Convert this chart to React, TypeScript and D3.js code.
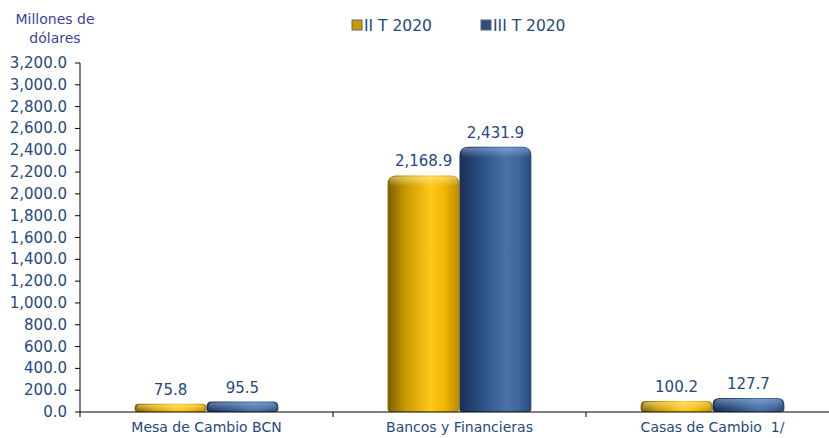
import React from "react";
import * as d3 from "d3";

const categories = ["Mesa de Cambio BCN", "Bancos y Financieras", "Casas de Cambio  1/"];
const seriesNames = ["II T 2020", "III T 2020"];
const serieQ2 = [75.8, 2168.9, 100.2];
const serieQ3 = [95.5, 2431.9, 127.7];
const yTicks = d3.range(0, 3201, 200);

const W = 829, H = 438;
const M = { left: 80, right: 839, top: 63, bottom: 412 };
const FONT = "Verdana, 'DejaVu Sans', sans-serif";
const TXT = "#1F497D";

function barPath(x: number, y: number, w: number, h: number) {
  const r = Math.min(9, h / 2, w / 2);
  const rb = Math.min(3, h / 2);
  return `M${x},${y + h - rb} L${x},${y + r} Q${x},${y} ${x + r},${y} L${x + w - r},${y} Q${x + w},${y} ${x + w},${y + r} L${x + w},${y + h - rb} Q${x + w},${y + h} ${x + w - rb},${y + h} L${x + rb},${y + h} Q${x},${y + h} ${x},${y + h - rb} Z`;
}

export default function App() {
  const x0 = d3.scaleBand().domain(categories).range([M.left, M.right]).paddingInner(0).paddingOuter(0);
  const x1 = d3.scaleBand().domain(seriesNames).range([0, x0.bandwidth()]).paddingInner(0).paddingOuter(0.76);
  const y = d3.scaleLinear().domain([0, 3200]).range([M.bottom, M.top]);
  const series = [serieQ2, serieQ3];
  const fills = ["url(#gY)", "url(#gB)"];
  const hi = ["url(#hY)", "url(#hB)"];

  return (
    <div style={{ position: "absolute", left: 0, top: 0 }}>
      <svg width={W} height={H} style={{ display: "block", fontFamily: FONT }}>
        <defs>
          <linearGradient id="gY" x1="0" x2="1" y1="0" y2="0">
            <stop offset="0" stopColor="#7d5e00" />
            <stop offset="0.25" stopColor="#c99a00" />
            <stop offset="0.6" stopColor="#ffc81a" />
            <stop offset="0.8" stopColor="#f2b400" />
            <stop offset="1" stopColor="#b98a00" />
          </linearGradient>
          <linearGradient id="gB" x1="0" x2="1" y1="0" y2="0">
            <stop offset="0" stopColor="#1a2f55" />
            <stop offset="0.3" stopColor="#2c4f82" />
            <stop offset="0.65" stopColor="#4872a8" />
            <stop offset="0.85" stopColor="#3c6498" />
            <stop offset="1" stopColor="#2a4a78" />
          </linearGradient>
          <linearGradient id="hY" x1="0" x2="0" y1="0" y2="1">
            <stop offset="0" stopColor="#fff3b0" stopOpacity="0.55" />
            <stop offset="1" stopColor="#fff3b0" stopOpacity="0" />
          </linearGradient>
          <linearGradient id="hB" x1="0" x2="0" y1="0" y2="1">
            <stop offset="0" stopColor="#a8c4ea" stopOpacity="0.5" />
            <stop offset="1" stopColor="#a8c4ea" stopOpacity="0" />
          </linearGradient>
        </defs>

        <text x={55} y={24} textAnchor="middle" fontSize={14} fill="#3F3F9F">Millones de</text>
        <text x={55} y={43} textAnchor="middle" fontSize={14} fill="#3F3F9F">dólares</text>

        {seriesNames.map((s, i) => {
          const lx = [352, 481][i];
          return (
            <g key={s}>
              <rect x={lx} y={20} width={10} height={10} fill={i === 0 ? "#c99a00" : "#2c4f82"} stroke="#666" strokeWidth={1} />
              <text x={lx + 12} y={31} fontSize={15.5} fill={TXT}>{s}</text>
            </g>
          );
        })}

        {yTicks.map((t) => (
          <g key={t}>
            <line x1={M.left - 5} x2={M.left} y1={y(t)} y2={y(t)} stroke="#000" strokeWidth={1} />
            <text x={67} y={y(t) + 5} textAnchor="end" fontSize={15} fill={TXT}>{d3.format(",.1f")(t)}</text>
          </g>
        ))}

        {categories.map((c, ci) => (
          <g key={c}>
            {series.map((s, si) => {
              const bx = (x0(c) as number) + (x1(seriesNames[si]) as number);
              const bw = x1.bandwidth();
              const by = y(s[ci]);
              const bh = M.bottom - by;
              return (
                <g key={si}>
                  <path d={barPath(bx, by, bw, bh)} fill={fills[si]} />
                  <path d={barPath(bx + 2, by + 1, bw - 4, Math.min(bh - 2, 10))} fill={hi[si]} />
                  <text x={bx + bw / 2} y={by - 9} textAnchor="middle" fontSize={15} fill={TXT}>{d3.format(",.1f")(s[ci])}</text>
                </g>
              );
            })}
            <text x={(x0(c) as number) + x0.bandwidth() / 2} y={432} textAnchor="middle" fontSize={14} fill={TXT} xmlSpace="preserve">{c}</text>
          </g>
        ))}

        <line x1={M.left} x2={M.left} y1={M.top} y2={M.bottom} stroke="#000" strokeWidth={1} />
        <line x1={M.left} x2={M.right} y1={M.bottom} y2={M.bottom} stroke="#000" strokeWidth={1} />
        {categories.map((c) => (
          <line key={c} x1={x0(c) as number} x2={x0(c) as number} y1={M.bottom} y2={M.bottom + 5} stroke="#000" strokeWidth={1} />
        ))}
      </svg>
    </div>
  );
}
